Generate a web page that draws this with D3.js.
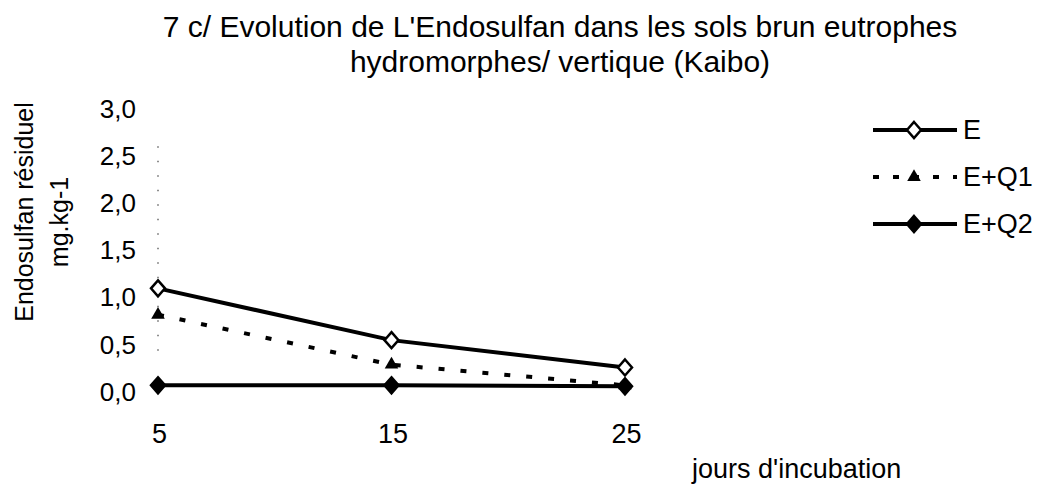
<!DOCTYPE html>
<html>
<head>
<meta charset="utf-8">
<script src="https://cdn.jsdelivr.net/npm/d3@7"></script>
<style>
	body { margin: 0; background: #fff; }
	svg text { font-family: "Liberation Sans", Arial, sans-serif; fill: #000; }
</style>
</head>
<body>
<svg width="1049" height="494"></svg>
<script>
// data
var days = [5, 15, 25];
var valuesE = [1.09, 0.54, 0.25];
var valuesEQ1 = [0.81, 0.28, 0.06];
var valuesEQ2 = [0.06, 0.06, 0.05];
var yTicks = [0, 0.5, 1, 1.5, 2, 2.5, 3];
var titleLines = ["7 c/ Evolution de L'Endosulfan dans les sols brun eutrophes", "hydromorphes/ vertique (Kaibo)"];

var series = [
	{ name: "E", values: valuesE, marker: "diamondOpen", dash: null },
	{ name: "E+Q1", values: valuesEQ1, marker: "triangle", dash: "6,16" },
	{ name: "E+Q2", values: valuesEQ2, marker: "diamond", dash: null }
];

var svg = d3.select("svg");

var x = d3.scaleLinear().domain([5, 25]).range([158, 625]);
var y = d3.scaleLinear().domain([0, 3]).range([391, 108.5]);

// title
svg.append("g").selectAll("text").data(titleLines).enter().append("text")
	.attr("x", 560)
	.attr("y", function(d, i) { return 37 + i * 35; })
	.attr("text-anchor", "middle")
	.attr("font-size", 30)
	.text(function(d) { return d; });

// dotted axis line (faint, scanned)
svg.append("line")
	.attr("x1", x(5)).attr("x2", x(5))
	.attr("y1", y(2.6)).attr("y2", y(0.3))
	.attr("stroke", "#444")
	.attr("stroke-width", 1.2)
	.attr("stroke-dasharray", "1.5,13");

// y axis
var yAxis = svg.append("g")
	.attr("transform", "translate(136,0)")
	.call(d3.axisLeft(y).tickValues(yTicks).tickSize(0).tickPadding(0)
		.tickFormat(function(d) { return d3.format(".1f")(d).replace(".", ","); }));
yAxis.select(".domain").remove();
yAxis.selectAll("text").attr("font-size", 26).attr("dy", "0.35em");

// x axis
var xAxis = svg.append("g")
	.attr("transform", "translate(1,424)")
	.call(d3.axisBottom(x).tickValues(days).tickSize(0).tickPadding(0));
xAxis.select(".domain").remove();
xAxis.selectAll("text").attr("font-size", 27).attr("dy", "0.71em");

// axis titles
svg.append("text")
	.attr("transform", "translate(33,212) rotate(-90)")
	.attr("text-anchor", "middle")
	.attr("font-size", 25)
	.text("Endosulfan résiduel");
svg.append("text")
	.attr("transform", "translate(68,222) rotate(-90)")
	.attr("text-anchor", "middle")
	.attr("font-size", 25)
	.text("mg.kg-1");
svg.append("text")
	.attr("x", 692).attr("y", 478)
	.attr("font-size", 27)
	.text("jours d'incubation");

function drawMarker(g, type, cx, cy) {
	if (type === "triangle") {
		g.append("path")
			.attr("d", d3.symbol().type(d3.symbolTriangle).size(80)())
			.attr("transform", "translate(" + cx + "," + cy + ")")
			.attr("fill", "#000");
	} else {
		g.append("path")
			.attr("d", "M0,-8L7,0L0,8L-7,0Z")
			.attr("transform", "translate(" + cx + "," + cy + ")")
			.attr("fill", type === "diamond" ? "#000" : "#fff")
			.attr("stroke", "#000")
			.attr("stroke-width", 2.5);
	}
}

var line = d3.line()
	.x(function(d, i) { return x(days[i]); })
	.y(function(d) { return y(d); });

// draw lines, then markers on top
series.slice().reverse().forEach(function(s) {
	var g = svg.append("g");
	g.append("path")
		.attr("d", line(s.values))
		.attr("fill", "none")
		.attr("stroke", "#000")
		.attr("stroke-width", 4)
		.attr("stroke-dasharray", s.dash);
	s.values.forEach(function(v, i) {
		drawMarker(g, s.marker, x(days[i]), y(v));
	});
});

// legend
var legend = svg.append("g");
series.forEach(function(s, i) {
	var ly = 130 + i * 47;
	legend.append("line")
		.attr("x1", 873).attr("x2", 957)
		.attr("y1", ly).attr("y2", ly)
		.attr("stroke", "#000")
		.attr("stroke-width", 4)
		.attr("stroke-dasharray", s.dash ? "6,14" : null);
	drawMarker(legend, s.marker, 914, ly);
	legend.append("text")
		.attr("x", 963).attr("y", ly)
		.attr("dy", "0.35em")
		.attr("font-size", 27)
		.text(s.name);
});
</script>
</body>
</html>
